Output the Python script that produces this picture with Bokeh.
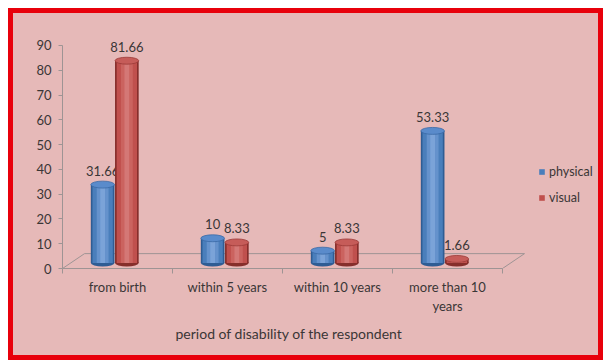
from bokeh.plotting import figure
from bokeh.models import FixedTicker, Legend, LegendItem, Title, ColumnDataSource
from bokeh.core.properties import value
from bokeh.embed import file_html
from bokeh.resources import INLINE

# ---- data ----
categories = ["from birth", "within 5 years", "within 10 years", "more than 10 years"]
tick_labels = ["from birth", "within 5 years", "within 10 years", "more than 10\nyears"]
series_names = ["physical", "visual"]
physical = [31.66, 10, 5, 53.33]
visual = [81.66, 8.33, 8.33, 1.66]
y_ticks = [0, 10, 20, 30, 40, 50, 60, 70, 80, 90]
x_title = "period of disability of the respondent"

# ---- style ----
FONT = "Lato"
PINK = "#e6b9b8"
TXT = "#3a3636"
GRID = "#9e9494"
BASE = 2.2          # 3D floor offset of the cylinders (data units)
BAR_W = 0.215
OFFSETS = [-0.135, 0.085]
FLOOR_DX, FLOOR_DY = 0.2, 6.0
PALETTES = [
    dict(dark="#2f5d94", base="#4a7ebb", light="#6592cc", hi="#8aafe0", top="#5a8bcb", topline="#3a6aa6"),
    dict(dark="#862e2b", base="#c0504d", light="#cb635f", hi="#db8785", top="#c65c59", topline="#9a3a37"),
]

n = len(categories)
p = figure(frame_width=536, frame_height=238, x_range=(0, 536 / 110), y_range=(0, 96.05),
           output_backend="svg", toolbar_location=None,
           min_border_left=49, min_border_right=0, min_border_top=17, min_border_bottom=87,
           background_fill_alpha=0, border_fill_alpha=0, outline_line_color=None)
p.styles = {"border": "5px solid #e8000b", "margin-top": "8px", "margin-left": "8px",
            "background-color": PINK}

# floor of the 3D plot
p.multi_line(xs=[[0, n], [FLOOR_DX, n + FLOOR_DX], [0, FLOOR_DX], [n, n + FLOOR_DX]],
             ys=[[0, 0], [FLOOR_DY, FLOOR_DY], [0, FLOOR_DY], [0, FLOOR_DY]],
             line_color=GRID, line_width=1)

legend_items = []
for s, (name, vals) in enumerate(zip(series_names, [physical, visual])):
    pal = PALETTES[s]
    xs = [i + 0.5 + OFFSETS[s] for i in range(n)]
    tops = [BASE + v for v in vals]
    src = ColumnDataSource(dict(x=xs, top=tops, lab=[f"{v:g}" for v in vals]))
    p.ellipse(x="x", y=BASE, width=BAR_W, height=2.8, source=src, fill_color=pal["dark"], line_color=None)
    p.vbar(x="x", bottom=BASE, top="top", width=BAR_W, source=src, fill_color=pal["dark"], line_color=None)
    body = p.vbar(x="x", bottom=BASE, top="top", width=BAR_W * 0.86, source=src,
                  fill_color=pal["base"], line_color=None)
    p.vbar(x="x", bottom=BASE, top="top", width=BAR_W * 0.5, source=src,
           fill_color=pal["light"], line_color=None)
    p.vbar(x="x", bottom=BASE, top="top", width=BAR_W * 0.2, source=src,
           fill_color=pal["hi"], fill_alpha=0.6, line_color=None)
    p.ellipse(x="x", y="top", width=BAR_W, height=2.8, source=src, fill_color=pal["top"],
              line_color=pal["topline"], line_width=0.8)
    p.text(x="x", y="top", text="lab", source=src, text_align="center", text_baseline="middle",
           y_offset=-14, text_font=value(FONT), text_font_size="13px", text_color=TXT)
    legend_items.append(LegendItem(label=name, renderers=[body]))

# axes
p.xgrid.visible = False
p.ygrid.visible = False

xa = p.xaxis[0]
xa.ticker = FixedTicker(ticks=[i + 0.5 for i in range(n)], minor_ticks=list(range(n + 1)))
xa.major_label_overrides = {i + 0.5: t for i, t in enumerate(tick_labels)}
xa.bounds = (0, n)
xa.axis_line_color = GRID
xa.major_tick_out = 0
xa.major_tick_in = 0
xa.minor_tick_out = 5
xa.minor_tick_in = 0
xa.minor_tick_line_color = GRID
xa.major_label_standoff = 5
xa.major_label_text_font = FONT
xa.major_label_text_font_size = "13px"
xa.major_label_text_color = TXT

ya = p.yaxis[0]
ya.ticker = FixedTicker(ticks=y_ticks, minor_ticks=[])
ya.bounds = (0, 90)
ya.axis_line_color = GRID
ya.major_tick_line_color = GRID
ya.major_tick_out = 4
ya.major_tick_in = 0
ya.major_label_standoff = 7
ya.major_label_text_font = FONT
ya.major_label_text_font_size = "13px"
ya.major_label_text_color = TXT

p.add_layout(Title(text=x_title, align="left", offset=113, standoff=13,
                   text_font=FONT, text_font_size="14px", text_font_style="normal",
                   text_color=TXT), "below")

legend = Legend(items=legend_items, location=(476, 63), glyph_width=7, glyph_height=7,
                label_height=14, spacing=11, padding=0, margin=0, label_standoff=4,
                label_text_font=FONT, label_text_font_size="12.5px", label_text_color=TXT,
                background_fill_alpha=0, border_line_color=None)
p.add_layout(legend)

open("out.html", "w").write(file_html(p, INLINE))
